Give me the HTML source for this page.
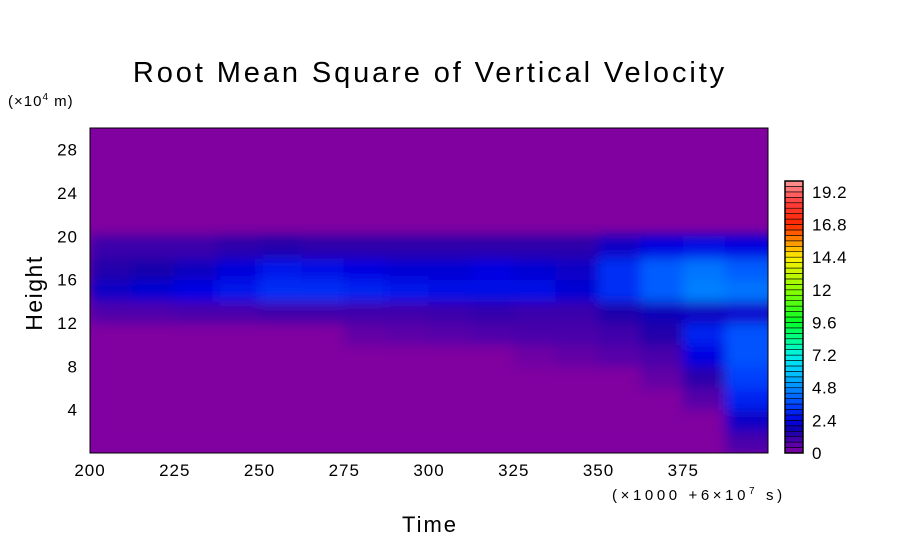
<!DOCTYPE html>
<html><head><meta charset="utf-8"><style>
body{margin:0;background:#fff;width:904px;height:544px;overflow:hidden;font-family:"Liberation Sans",sans-serif}
svg text{font-family:"Liberation Sans",sans-serif;fill:#000}
</style></head><body>
<svg id="chart" width="904" height="544">
<defs>
<clipPath id="pc"><rect x="90" y="128" width="678" height="325"/></clipPath>
<filter id="bl" x="-5%" y="-5%" width="110%" height="110%"><feGaussianBlur stdDeviation="6"/></filter>
</defs>
<text x="430" y="82" font-size="29" letter-spacing="2.9" text-anchor="middle">Root Mean Square of Vertical Velocity</text>
<text x="8" y="106" font-size="15" letter-spacing="1">(×10<tspan font-size="10" dy="-6">4</tspan><tspan dy="6"> m)</tspan></text>
<text x="42" y="293" font-size="23" letter-spacing="1.5" text-anchor="middle" transform="rotate(-90 42 293)">Height</text>
<text x="430" y="532" font-size="22" letter-spacing="2" text-anchor="middle">Time</text>
<text x="612" y="500" font-size="15" letter-spacing="3.6">(×1000 +6×10<tspan font-size="10" dy="-6">7</tspan><tspan dy="6"> s)</tspan></text>
<rect x="90" y="128" width="678" height="325" fill="#8000a0"/>
<g id="cells" clip-path="url(#pc)"><g id="cellsInner" filter="url(#bl)"></g></g>
<rect x="90" y="128" width="678" height="325" fill="none" stroke="#000" stroke-width="1"/>
<g id="xt"></g><g id="yt"></g><g id="cb"></g>
</svg>
<script>
const xTicks=[200,225,250,275,300,325,350,375];
const yTicks=[4,8,12,16,20,24,28];
const cbTicks=["0","2.4","4.8","7.2","9.6","12","14.4","16.8","19.2"];
const colStarts=[200,212.5,225,237.5,250,262.5,275,287.5,300,312.5,325,337.5,350,362.5,375,387.5];
const rowStarts=[0,2,4,6,8,10,12,14,16,18];
const c0=[0,0,0,0,0,0,0.8,2.0,1.4,1.1];
const c1=[0,0,0,0,0,0,0.8,2.2,1.6,1.1];
const c2=[0,0,0,0,0,0,0.9,2.5,1.9,1.1];
const c3=[0,0,0,0,0,0,0.9,2.8,2.3,1.3];
const c4=[0,0,0,0,0,0,1.0,3.2,2.8,1.4];
const c5=[0,0,0,0,0,0,1.0,3.2,2.6,1.3];
const c6=[0,0,0,0,0,0.5,1.0,3.0,2.4,1.3];
const c7=[0,0,0,0,0,0.6,1.0,2.8,2.2,1.3];
const c8=[0,0,0,0,0,0.7,1.1,2.6,2.2,1.3];
const c9=[0,0,0,0,0,0.8,1.2,2.6,2.4,1.3];
const c10=[0,0,0,0,0.3,0.9,1.1,2.6,2.2,1.3];
const c11=[0,0,0,0,0.5,0.9,1.1,2.2,2.0,1.3];
const c12=[0,0,0,0,0.7,1.0,1.5,3.2,3.2,2.0];
const c13=[0,0,0,0.5,0.9,1.4,1.8,4.0,4.0,2.4];
const c14=[0,0,0.7,1.3,2.4,3.0,1.9,4.6,4.4,2.6];
const c15=[0.9,2.0,3.0,3.5,3.8,3.8,2.1,4.4,4.0,2.4];
const grid=[c0,c1,c2,c3,c4,c5,c6,c7,c8,c9,c10,c11,c12,c13,c14,c15];
const NS='http://www.w3.org/2000/svg';
const X=t=>90+(t-200)/200*678;
const Y=h=>453-h/30*325;
const stops=[[0,[128,0,160]],[0.8,[80,0,170]],[1.6,[20,0,170]],[2.4,[0,0,225]],[3.6,[0,70,255]],[4.8,[0,140,255]],[6,[0,200,255]],[7.2,[0,240,230]],[8.4,[0,255,140]],[9.6,[0,255,40]],[12,[140,255,0]],[14.4,[255,240,0]],[15.6,[255,140,0]],[16.8,[255,40,0]],[18.4,[255,60,60]],[20,[255,150,150]]];
function col(v){
  for(let i=1;i<stops.length;i++){if(v<=stops[i][0]){const a=stops[i-1],b=stops[i];const f=(v-a[0])/(b[0]-a[0]);return 'rgb('+a[1].map((c,k)=>Math.round(c+(b[1][k]-c)*f)).join(',')+')';}}
  return 'rgb(255,150,150)';
}
function mk(tag,attrs,parent){const e=document.createElementNS(NS,tag);for(const k in attrs)e.setAttribute(k,attrs[k]);parent.appendChild(e);return e;}
const ci=document.getElementById('cellsInner');
grid.forEach((column,i)=>{column.forEach((v,j)=>{
  const x0=X(colStarts[i]),x1=X(colStarts[i]+12.5),y0=Y(rowStarts[j]+2),y1=Y(rowStarts[j]);
  const r=mk('rect',{x:x0-0.5,y:y0-0.5,width:x1-x0+1+(i===15?20:0),height:y1-y0+1,fill:col(v)},ci);
  
  
});});
const xt=document.getElementById('xt');
xTicks.forEach(t=>{const e=mk('text',{x:X(t),y:476,'font-size':17,'text-anchor':'middle','letter-spacing':1},xt);e.textContent=t;

});
const yt=document.getElementById('yt');
yTicks.forEach(t=>{const e=mk('text',{x:78,y:Y(t)+6,'font-size':17,'text-anchor':'end','letter-spacing':1},yt);e.textContent=t;

});
const cb=document.getElementById('cb');
const CY=v=>453-v/20*272;
for(let k=0;k<50;k++){const v=k*0.4;
  const r=mk('rect',{x:785,y:CY(v+0.4),width:18,height:272/50,fill:col(v+0.2),stroke:'#000','stroke-width':0.6},cb);
  
  }
const fr=mk('rect',{x:785,y:181,width:18,height:272,fill:'none',stroke:'#000','stroke-width':1.5},cb);


cbTicks.forEach(t=>{const e=mk('text',{x:812,y:CY(parseFloat(t))+6,'font-size':17,'letter-spacing':0.5},cb);e.textContent=t;

});
</script>
</body></html>
